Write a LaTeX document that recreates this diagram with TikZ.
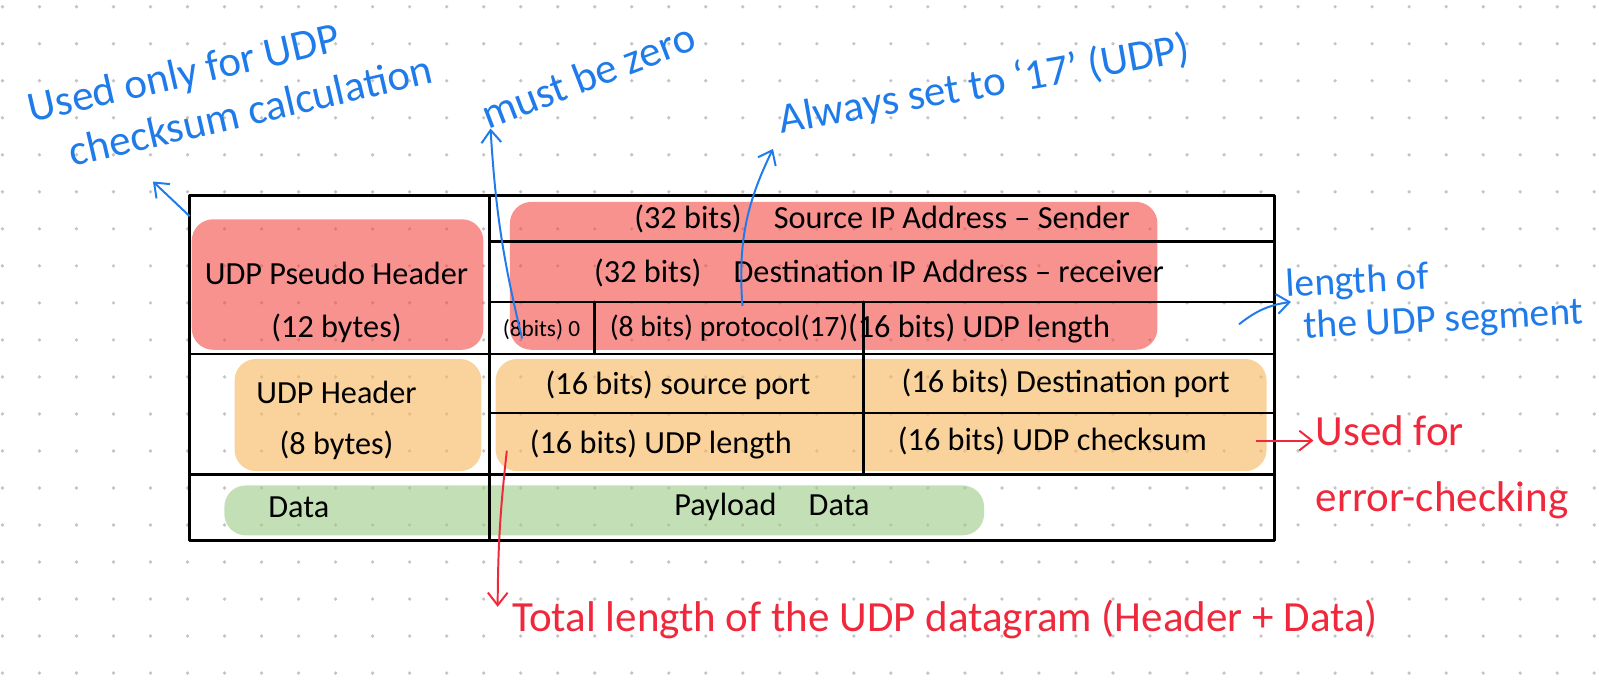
\documentclass[tikz,border=0pt]{standalone}
\usepackage{fontspec}
\setmainfont{Carlito}
\usetikzlibrary{arrows.meta,positioning,calc}
\definecolor{inkblue}{HTML}{1F7BEA}
\definecolor{inkred}{HTML}{F0283C}
\definecolor{hlred}{HTML}{F24A45}
\definecolor{hlorange}{HTML}{F7B75A}
\definecolor{hlgreen}{HTML}{9CCB85}
\definecolor{dotgray}{HTML}{C4C4C4}
\tikzset{
  cell/.style={font=\fontsize{18}{21}\selectfont,inner sep=1pt},
  tcell/.style={font=\fontsize{13}{15}\selectfont,inner sep=1pt},
  bnote/.style={text=inkblue,font=\fontsize{24}{29}\selectfont,align=left,inner sep=1pt},
  rnote/.style={text=inkred,font=\fontsize{24}{29}\selectfont,align=left,inner sep=1pt},
  rule/.style={line width=1.5pt,line cap=round,line join=round},
  barr/.style={-{Straight Barb[length=7pt,width=11pt]},line width=1.1pt,draw=inkblue},
  rarr/.style={-{Straight Barb[length=7pt,width=11pt]},line width=1.1pt,draw=inkred},
  hl/.style={rounded corners=12pt,opacity=0.6},
}
\begin{document}
\begin{tikzpicture}[x=0.02cm,y=-0.02cm]
  \fill[white] (0,0) rectangle (1568,681);
  \useasboundingbox (0,0) rectangle (1568,681);
  % dotted paper
  \foreach \i in {0,...,43}{\foreach \j in {0,...,18}{\fill[dotgray] (2.4+36.3*\i,6.6+36.3*\j) circle[radius=1.8];}}
  % marker highlights
  \fill[hlred,hl] (188,215) rectangle (474,343);
  \fill[hlred,hl] (500,198) rectangle (1135,343);
  \fill[hlorange,hl] (230,352) rectangle (472,462);
  \fill[hlorange,hl] (486,352) rectangle (1242,462);
  \fill[hlgreen,hl] (220,476) rectangle (965,525);
  % table
  \draw[rule] (186,192) rectangle (1250,530);
  \draw[rule] (480,192) -- (480,530);
  \draw[rule] (480,237) -- (1250,237);
  \draw[rule] (480,296) -- (1250,296);
  \draw[rule] (186,347) -- (1250,347);
  \draw[rule] (480,405) -- (1250,405);
  \draw[rule] (186,465) -- (1250,465);
  \draw[rule] (583,296) -- (583,347);
  \draw[rule] (847,296) -- (847,465);
  \node[cell] (psh) at (330,268) {UDP Pseudo Header};
  \node[cell] (pshb) at (330,322) {(12 bytes)};
  \node[cell] (srcip) at (865,215) {(32 bits)\quad Source IP Address -- Sender};
  \node[cell] (dstip) at (862,268) {(32 bits)\quad Destination IP Address -- receiver};
  \node[tcell] (zero) at (531,323) {(8bits) 0};
  \node[cell,font=\fontsize{16.5}{19}\selectfont] (proto) at (715,322) {(8 bits) protocol(17)};
  \node[cell] (plen) at (960,322) {(16 bits) UDP length};
  \node[cell] (uh) at (330,385) {UDP Header};
  \node[cell] (uhb) at (330,437) {(8 bytes)};
  \node[cell] (sport) at (665,378) {(16 bits) source port};
  \node[cell] (dport) at (1045,376) {(16 bits) Destination port};
  \node[cell] (ulen) at (648,436) {(16 bits) UDP length};
  \node[cell] (csum) at (1032,432) {(16 bits) UDP checksum};
  \node[cell] (data) at (293,497) {Data};
  \node[cell] (payload) at (757,497) {Payload\quad Data};
  % notes
  \node[bnote,rotate=13,anchor=north west] (notepsh) at (22,90) {Used only for UDP\\\hspace{0.7em}checksum calculation};
  \node[bnote,rotate=21,anchor=south west] (notezero) at (478,130) {must be zero};
  \node[bnote,rotate=10,anchor=south west] (notepro) at (766,140) {Always set to `17' (UDP)};
  \node[bnote,rotate=3,anchor=north west,font=\fontsize{22}{24}\selectfont] (noteplen) at (1258,262) {length of\\\hspace{0.4em}the UDP segment};
  \node[rnote,anchor=north west] (notecsum) at (1288,405) {Used for\\[8pt]error-checking};
  \node[rnote,anchor=west] (notetotal) at (500,607) {Total length of the UDP datagram (Header + Data)};
  % connectors
  \coordinate (pshcorner) at (186,212);
  \coordinate (pshtip) at (150,178);
  \coordinate (zeroin) at (512,332);
  \coordinate (protoin) at (728,300);
  \coordinate (plenin) at (1215,318);
  \coordinate (csumin) at (1232,432);
  \coordinate (ulenin) at (497,442);
  \draw[barr] (pshcorner) -- (pshtip);
  \draw[barr] (zeroin) to[bend left=5] ([shift={(3,-4)}]notezero.south west);
  \draw[barr] (protoin) to[bend left=15] ([shift={(-8,6)}]notepro.south west);
  \draw[barr] (plenin) to[bend left=15] ([shift={(8,34)}]noteplen.north west);
  \draw[rarr] (csumin) -- (notecsum.west |- csumin);
  \draw[rarr] (ulenin) to[bend right=3] ([shift={(-12,-12)}]notetotal.west);
\end{tikzpicture}
\end{document}
